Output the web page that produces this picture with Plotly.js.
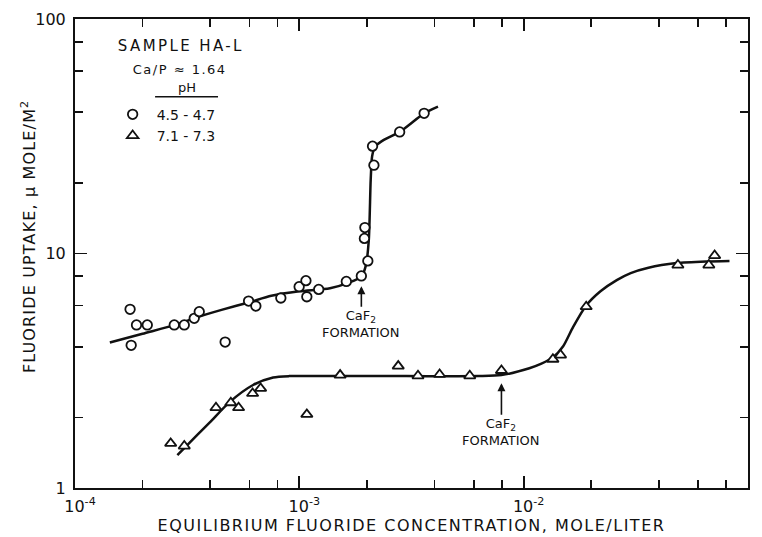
<!DOCTYPE html>
<html>
<head>
<meta charset="utf-8">
<script src="https://cdn.plot.ly/plotly-3.0.1.min.js"></script>
<style>
  html, body { margin: 0; padding: 0; background: #fff; }
  #chart { width: 762px; height: 537px; }
  .xtitle { letter-spacing: 1.5px; }
  .annotation[data-index="0"] .annotation-text { letter-spacing: 2.4px; }
  .annotation[data-index="1"] .annotation-text { letter-spacing: 1.5px; }
  .annotation[data-index="5"] .annotation-text { letter-spacing: 1.15px; }
</style>
</head>
<body>
<div id="chart"></div>
<script>
// ---- data ----
// pH 4.5 - 4.7 (circles)
var circleX = [1.76e-4, 1.78e-4, 1.88e-4, 2.10e-4, 2.77e-4, 3.07e-4, 3.40e-4, 3.58e-4, 4.67e-4, 5.94e-4, 6.40e-4, 8.27e-4, 9.98e-4, 1.07e-3, 1.08e-3, 1.22e-3, 1.62e-3, 1.89e-3, 2.02e-3, 1.95e-3, 1.96e-3, 2.15e-3, 2.12e-3, 2.80e-3, 3.60e-3];
var circleY = [5.78, 4.06, 4.96, 4.96, 4.96, 4.96, 5.29, 5.65, 4.19, 6.27, 5.97, 6.46, 7.22, 7.66, 6.54, 7.03, 7.6, 8.02, 9.3, 11.6, 12.9, 23.8, 28.7, 33.0, 39.6];
// pH 7.1 - 7.3 (triangles)
var triX = [2.67e-4, 3.07e-4, 4.25e-4, 4.95e-4, 5.36e-4, 6.19e-4, 6.72e-4, 1.08e-3, 1.52e-3, 2.76e-3, 3.38e-3, 4.22e-3, 5.75e-3, 7.96e-3, 1.35e-2, 1.46e-2, 1.90e-2, 4.87e-2, 6.69e-2, 7.1e-2];
var triY = [1.55, 1.51, 2.20, 2.31, 2.20, 2.53, 2.66, 2.06, 3.03, 3.31, 3.01, 3.05, 3.01, 3.17, 3.54, 3.69, 5.93, 8.93, 8.93, 9.8];
// drawn curves
var circleCurveX = [1.43e-4, 2.0e-4, 2.8e-4, 3.5e-4, 4.5e-4, 6.0e-4, 7.5e-4, 1.0e-3, 1.37e-3, 1.65e-3, 1.89e-3, 1.98e-3, 2.04e-3, 2.08e-3, 2.11e-3, 2.17e-3, 2.38e-3, 2.8e-3, 3.6e-3, 4.15e-3];
var circleCurveY = [4.17, 4.55, 4.96, 5.35, 5.75, 6.2, 6.6, 6.9, 7.11, 7.5, 7.97, 8.9, 11.4, 20.6, 25.9, 28.5, 30.5, 33.0, 39.6, 42.3];
var triCurveX = [2.86e-4, 3.5e-4, 4.0e-4, 4.9e-4, 6.22e-4, 7.64e-4, 9.0e-4, 1.5e-3, 3.0e-3, 6.37e-3, 7.96e-3, 1.06e-2, 1.2e-2, 1.35e-2, 1.50e-2, 1.66e-2, 1.90e-2, 2.2e-2, 2.6e-2, 3.0e-2, 3.6e-2, 4.8e-2, 6.5e-2, 8.27e-2];
var triCurveY = [1.38, 1.68, 1.91, 2.33, 2.75, 2.96, 3.0, 3.0, 3.0, 3.0, 3.03, 3.24, 3.39, 3.6, 4.02, 4.85, 6.0, 6.9, 7.7, 8.25, 8.7, 9.1, 9.25, 9.3];
// axis ticks
var xTickVals = [1e-4, 1e-3, 1e-2, 1e-1];
var xTickText = ["10<sup>-4</sup>", "10<sup>-3</sup>", "10<sup>-2</sup>", "10<sup>-1</sup>"];
var xMinorVals = [2e-4, 4e-4, 6e-4, 8e-4, 2e-3, 4e-3, 6e-3, 8e-3, 2e-2, 4e-2, 6e-2, 8e-2];
var yTickVals = [1, 10, 100];
var yTickText = ["1", "10", "100"];
var yMinorVals = [2, 4, 6, 8, 20, 40, 60, 80];
var seriesNames = ["4.5 - 4.7", "7.1 - 7.3"];

var FONT = "DejaVu Sans, sans-serif";
var INK = "#111";

var traces = [
  {x: circleCurveX, y: circleCurveY, mode: "lines", line: {color: INK, width: 2.5, shape: "spline", smoothing: 0.7}, showlegend: false, hoverinfo: "skip"},
  {x: triCurveX, y: triCurveY, mode: "lines", line: {color: INK, width: 2.5, shape: "spline", smoothing: 0.7}, showlegend: false, hoverinfo: "skip"},
  {x: circleX, y: circleY, mode: "markers", name: seriesNames[0],
   marker: {symbol: "circle", size: 9.5, color: "#fff", line: {color: INK, width: 1.8}}},
  {x: triX, y: triY, mode: "markers", name: seriesNames[1],
   marker: {symbol: "triangle-up", size: 10, color: "#fff", line: {color: INK, width: 1.8}}}
];

function axisCommon() {
  return {
    type: "log",
    showline: true, linecolor: INK, linewidth: 2, mirror: "ticks",
    ticks: "inside", ticklen: 12, tickwidth: 1.8, tickcolor: INK,
    showgrid: false, zeroline: false,
    tickfont: {family: FONT, size: 16, color: INK}
  };
}
var xa = axisCommon();
xa.range = [-4, -1];
xa.tickmode = "array"; xa.tickvals = xTickVals; xa.ticktext = xTickText;
xa.minor = {tickmode: "array", tickvals: xMinorVals, ticks: "inside", ticklen: 8, tickwidth: 1.8, tickcolor: INK, showgrid: false};
xa.ticklabelshift = 5;
xa.ticklabelstandoff = 3;
xa.title = {text: "EQUILIBRIUM FLUORIDE CONCENTRATION, MOLE/LITER", font: {family: FONT, size: 16, color: INK}, standoff: 4};
var ya = axisCommon();
ya.range = [0, 2];
ya.tickmode = "array"; ya.tickvals = yTickVals; ya.ticktext = yTickText;
ya.minor = {tickmode: "array", tickvals: yMinorVals, ticks: "inside", ticklen: 8, tickwidth: 1.8, tickcolor: INK, showgrid: false};
ya.ticklabelstandoff = 4;

var annFont = {family: FONT, size: 13, color: INK};
var layout = {
  width: 762, height: 537,
  margin: {l: 75, r: 14, t: 19, b: 49},
  paper_bgcolor: "#fff", plot_bgcolor: "#fff",
  font: {family: FONT, color: INK},
  xaxis: xa, yaxis: ya,
  showlegend: true,
  legend: {x: 0.05, y: 0.83, xanchor: "left", yanchor: "top", bgcolor: "rgba(0,0,0,0)",
           font: {family: FONT, size: 14, color: INK}, tracegroupgap: 0, itemwidth: 38},
  shapes: [
    {type: "line", xref: "paper", yref: "paper", x0: 0.119, x1: 0.2125, y0: 0.834, y1: 0.834, line: {color: INK, width: 1.5}}
  ],
  annotations: [
    {xref: "paper", yref: "paper", x: 0.1575, y: 0.942, text: "SAMPLE HA-L", showarrow: false, xanchor: "center", yanchor: "middle", font: {family: FONT, size: 15, color: INK}},
    {xref: "paper", yref: "paper", x: 0.156, y: 0.893, text: "Ca/P ≈ 1.64", showarrow: false, xanchor: "center", yanchor: "middle", font: annFont},
    {xref: "paper", yref: "paper", x: 0.1664, y: 0.853, text: "pH", showarrow: false, xanchor: "center", yanchor: "middle", font: annFont},
    {xref: "x", yref: "y", x: Math.log10(1.89e-3), y: Math.log10(7.25), text: "CaF<sub>2</sub><br>FORMATION",
     showarrow: true, arrowhead: 2, arrowsize: 1, arrowwidth: 1.6, arrowcolor: INK, ax: 0, ay: 38, standoff: 0, font: annFont},
    {xref: "x", yref: "y", x: Math.log10(7.96e-3), y: Math.log10(2.8), text: "CaF<sub>2</sub><br>FORMATION",
     showarrow: true, arrowhead: 2, arrowsize: 1, arrowwidth: 1.6, arrowcolor: INK, ax: 0, ay: 49, standoff: 0, font: annFont},
    {xref: "paper", yref: "paper", x: -0.0698, y: 0.537, text: "FLUORIDE UPTAKE, μ MOLE/M<sup>2</sup>", textangle: -90,
     showarrow: false, xanchor: "center", yanchor: "middle", font: {family: FONT, size: 16, color: INK}}
  ]
};

Plotly.newPlot("chart", traces, layout, {staticPlot: true, displayModeBar: false});
</script>
</body>
</html>
